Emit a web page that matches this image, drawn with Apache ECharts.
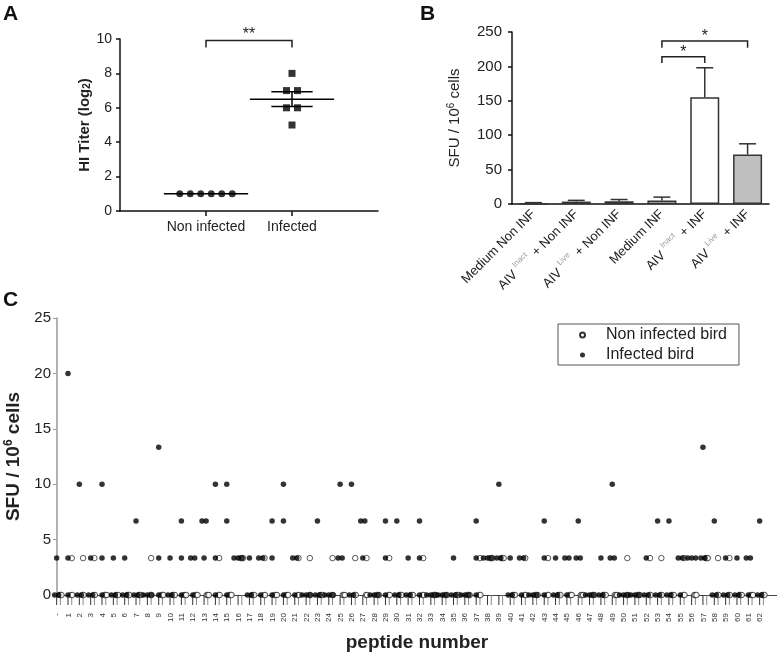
<!DOCTYPE html>
<html><head><meta charset="utf-8">
<script src="https://cdn.jsdelivr.net/npm/echarts@6/dist/echarts.min.js"></script>
<style>html,body{margin:0;padding:0;background:#fff}#c{width:777px;height:655px}</style>
</head><body><div id="c"></div>
<script>
// ---------- Panel A data ----------
const hiCategories = ['Non infected', 'Infected'];
const hiNonInfected = [1, 1, 1, 1, 1, 1];
const hiInfected = [8, 7, 7, 6, 6, 5];

// ---------- Panel B data ----------
const sfuCategories = ['Medium Non INF', 'AIV Inact + Non INF', 'AIV Live + Non INF', 'Medium INF', 'AIV Inact + INF', 'AIV Live + INF'];
const sfuMean = [1, 3.5, 4, 5, 155, 72];
const sfuSem = [1, 1.8, 2.5, 5, 43, 15.5];

// ---------- Panel C data ----------
const peptideLabels = ['-','1','2','3','4','5','6','7','8','9','10','11','12','13','14','15','16','17','18','19','20',
  '21','22','23','24','25','26','27','28','29','30','31','32','33','34','35','36','37','38','39','40',
  '41','42','43','44','45','46','47','48','49','50','51','52','53','54','55','56','57','58','59','60','61','62'];
const infectedBird = [
  [3.33,0,0],[20,3.33,0],[10,0,0],[3.33,0,0],[10,3.33,0],[3.33,0,0],[3.33,0,0],[6.67,0,0],[0,0,0],[13.33,3.33,0],
  [3.33,0,0],[6.67,3.33,0],[3.33,3.33,0],[6.67,6.67,3.33],[10,3.33,0],[10,6.67,0],[3.33,3.33,3.33],[3.33,0,0],[3.33,3.33,0],[6.67,3.33,0],
  [10,6.67,0],[3.33,3.33,0],[0,0,0],[6.67,0,0],[0,0,0],[10,3.33,3.33],[10,0,0],[6.67,6.67,3.33],[0,0,0],[6.67,3.33,0],
  [6.67,0,0],[3.33,0,0],[6.67,3.33,0],[0,0,0],[0,0,0],[3.33,0,0],[0,0,0],[6.67,3.33,0],[3.33,3.33,3.33],[10,3.33,3.33],
  [3.33,0,0],[3.33,3.33,0],[0,0,0],[6.67,3.33,0],[3.33,0,0],[3.33,3.33,0],[6.67,3.33,3.33],[0,0,0],[3.33,0,0],[10,3.33,3.33],
  [0,0,0],[0,0,0],[3.33,0,0],[6.67,0,0],[6.67,0,0],[3.33,3.33,0],[3.33,3.33,3.33],[13.33,3.33,3.33],[6.67,0,0],[3.33,0,0],
  [3.33,0,0],[3.33,3.33,0],[6.67,0,0]
];
const nonInfectedBird = [
  [0,0,0],[3.33,0,0],[3.33,0,0],[3.33,0,0],[0,0,0],[0,0,0],[0,0,0],[0,0,0],[3.33,0,0],[0,0,0],
  [0,0,0],[0,0,0],[0,0,0],[0,0,0],[3.33,0,0],[0,0,0],[3.33,3.33,3.33],[0,0,0],[3.33,0,0],[0,0,0],
  [0,0,0],[3.33,0,0],[3.33,0,0],[0,0,0],[3.33,0,0],[0,0,0],[3.33,0,0],[3.33,0,0],[0,0,0],[3.33,0,0],
  [0,0,0],[0,0,0],[3.33,0,0],[0,0,0],[0,0,0],[0,0,0],[0,0,0],[3.33,0,0],[3.33,3.33,3.33],[3.33,3.33,3.33],
  [0,0,0],[3.33,0,0],[0,0,0],[3.33,0,0],[0,0,0],[0,0,0],[0,0,0],[0,0,0],[0,0,0],[0,0,0],
  [3.33,0,0],[0,0,0],[3.33,0,0],[3.33,0,0],[0,0,0],[3.33,0,0],[0,0,0],[3.33,3.33,3.33],[3.33,0,0],[3.33,0,0],
  [0,0,0],[0,0,0],[0,0,0]
];

// ---------- helpers ----------
const FONT = '"Liberation Sans", Arial, Helvetica, sans-serif';
function spreadOffsets(values, center, spacing) {
  const counts = {}, seen = {};
  values.forEach(v => { counts[v] = (counts[v] || 0) + 1; });
  return values.map(v => {
    seen[v] = seen[v] === undefined ? 0 : seen[v] + 1;
    return center + (seen[v] - (counts[v] - 1) / 2) * spacing;
  });
}
function meanSem(arr) {
  const n = arr.length, m = arr.reduce((a, b) => a + b, 0) / n;
  const sd = Math.sqrt(arr.reduce((a, b) => a + (b - m) * (b - m), 0) / (n - 1));
  return [m, sd / Math.sqrt(n)];
}

// Panel A points
const hiNIPoints = spreadOffsets(hiNonInfected, 0, 0.122).map((o, k) => [1 + o, hiNonInfected[k]]);
const hiINPoints = spreadOffsets(hiInfected, 0, 0.128).map((o, k) => [2 + o, hiInfected[k]]);
const hiStats = [hiNonInfected, hiInfected].map((arr, i) => [i + 1].concat(meanSem(arr)));

// Panel C points
const INF_CENTER = -0.03, NI_CENTER = 0.3;
const cInf = [], cNI = [];
infectedBird.forEach((vals, i) => spreadOffsets(vals, INF_CENTER, 0.36).forEach((o, k) => cInf.push([i + o, vals[k]])));
nonInfectedBird.forEach((vals, i) => spreadOffsets(vals, NI_CENTER, 0.1).forEach((o, k) => cNI.push([i + o, vals[k]])));

function bracketSeries(xi, yi, from, to, top, leg, label, lift) {
  return {
    type: 'custom', xAxisIndex: xi, yAxisIndex: yi, silent: true, clip: false, z: 5,
    data: [[from, to, top, leg]],
    renderItem: function (params, api) {
      const a = api.coord([api.value(0), api.value(3)]);
      const b = api.coord([api.value(0), api.value(2)]);
      const c = api.coord([api.value(1), api.value(2)]);
      const d = api.coord([api.value(1), api.value(3)]);
      return { type: 'group', children: [
        { type: 'polyline', shape: { points: [a, b, c, d] }, style: { stroke: '#222', lineWidth: 1.5, fill: null } },
        { type: 'text', style: { text: label, x: (b[0] + c[0]) / 2, y: b[1] - lift, align: 'center', verticalAlign: 'middle', fontSize: 16, fontFamily: FONT, fill: '#222' } }
      ]};
    }
  };
}

const chart = echarts.init(document.getElementById('c'));
const option = {
  animation: false,
  textStyle: { fontFamily: FONT },
  grid: [
    { left: 120, top: 39, width: 258, height: 172, outerBoundsMode: 'none', containLabel: false },
    { left: 512, top: 32, width: 257, height: 172, outerBoundsMode: 'none', containLabel: false },
    { left: 57, top: 318, width: 720, height: 277, outerBoundsMode: 'none', containLabel: false }
  ],
  xAxis: [
    { gridIndex: 0, type: 'value', min: 0, max: 3, interval: 1,
      axisLine: { lineStyle: { color: '#111', width: 1.5 } },
      axisTick: { customValues: [1, 2], length: 5, lineStyle: { color: '#111', width: 1.5 } },
      axisLabel: { customValues: [1, 2], formatter: v => hiCategories[v - 1] || '', fontSize: 14, color: '#222', margin: 9 },
      splitLine: { show: false } },
    { gridIndex: 1, type: 'category', data: sfuCategories,
      axisLine: { lineStyle: { color: '#111', width: 1.5 } },
      axisTick: { alignWithLabel: true, length: 4, lineStyle: { color: '#111', width: 1.5 } },
      axisLabel: { interval: 0, rotate: 45, margin: 8, fontSize: 13, color: '#222',
        formatter: v => v.replace(/^AIV (Inact|Live) (.*)$/, '{a|AIV }{s|$1}{a| $2}'),
        rich: { a: { fontSize: 13, color: '#222', lineHeight: 20, verticalAlign: 'middle' },
                s: { fontSize: 8, color: '#9a9a9a', lineHeight: 10, verticalAlign: 'top', padding: [0, 2, 0, 0] } } } },
    { gridIndex: 2, type: 'value', min: 0, max: 63.5, interval: 1,
      axisLine: { lineStyle: { color: '#444', width: 1 } },
      axisTick: { show: false },
      axisLabel: { rotate: 90, fontSize: 8, color: '#333', margin: 18,
        formatter: v => (Number.isInteger(v) && v >= 0 && v < peptideLabels.length) ? peptideLabels[v] : '' },
      splitLine: { show: false },
      name: 'peptide number', nameLocation: 'middle', nameGap: 38,
      nameTextStyle: { fontSize: 19, fontWeight: 'bold', color: '#222' } }
  ],
  yAxis: [
    { gridIndex: 0, type: 'value', min: 0, max: 10, interval: 2,
      axisLine: { show: true, lineStyle: { color: '#111', width: 1.5 } },
      axisTick: { show: true, length: 4, lineStyle: { color: '#111', width: 1.5 } },
      axisLabel: { fontSize: 14, color: '#222', margin: 8 },
      splitLine: { show: false },
      name: '{a|HI Titer (log}{s|2}{a|)}', nameLocation: 'middle', nameGap: 26,
      nameTextStyle: { rich: { a: { fontSize: 15, fontWeight: 'bold', color: '#222' }, s: { fontSize: 10, fontWeight: 'bold', color: '#222', verticalAlign: 'bottom', padding: [6, 0, 0, 0] } } } },
    { gridIndex: 1, type: 'value', min: 0, max: 250, interval: 50,
      axisLine: { show: true, lineStyle: { color: '#111', width: 1.5 } },
      axisTick: { show: true, length: 4, lineStyle: { color: '#111', width: 1.5 } },
      axisLabel: { fontSize: 15, color: '#222', margin: 10 },
      splitLine: { show: false },
      name: '{a|SFU / 10}{s|6}{a| cells}', nameLocation: 'middle', nameGap: 48,
      nameTextStyle: { rich: { a: { fontSize: 15, color: '#222' }, s: { fontSize: 10, color: '#222', verticalAlign: 'top', padding: [0, 0, 8, 0] } } } },
    { gridIndex: 2, type: 'value', min: 0, max: 25, interval: 5,
      axisLine: { show: true, lineStyle: { color: '#999', width: 1.5 } },
      axisTick: { show: true, length: 4, lineStyle: { color: '#999', width: 1 } },
      axisLabel: { fontSize: 15, color: '#222', margin: 6 },
      splitLine: { show: false },
      name: '{a|SFU / 10}{s|6}{a| cells}', nameLocation: 'middle', nameGap: 27,
      nameTextStyle: { rich: { a: { fontSize: 19, fontWeight: 'bold', color: '#222' }, s: { fontSize: 12, fontWeight: 'bold', color: '#222', verticalAlign: 'top', padding: [0, 0, 10, 0] } } } }
  ],
  legend: {
    data: ['Non infected bird', 'Infected bird'], orient: 'vertical', left: 558, top: 324,
    borderColor: '#555', borderWidth: 1, padding: [3, 12, 2, 21], itemWidth: 5, itemHeight: 5, itemGap: 4,
    textStyle: { fontSize: 16, color: '#222', padding: [0, 0, 0, 16] }
  },
  graphic: [
    { type: 'text', left: 3, top: 4, style: { text: 'A', fontSize: 21, fontWeight: 'bold', fill: '#111', fontFamily: FONT } },
    { type: 'text', left: 420, top: 4, style: { text: 'B', fontSize: 21, fontWeight: 'bold', fill: '#111', fontFamily: FONT } },
    { type: 'text', left: 3, top: 290, style: { text: 'C', fontSize: 21, fontWeight: 'bold', fill: '#111', fontFamily: FONT } }
  ],
  series: [
    // Panel A
    { type: 'scatter', xAxisIndex: 0, yAxisIndex: 0, data: hiNIPoints, symbol: 'circle', symbolSize: 7, itemStyle: { color: '#000' }, clip: false },
    { type: 'scatter', xAxisIndex: 0, yAxisIndex: 0, data: hiINPoints, symbol: 'rect', symbolSize: 7, itemStyle: { color: '#000' }, clip: false },
    { type: 'custom', xAxisIndex: 0, yAxisIndex: 0, data: hiStats, silent: true, z: 3,
      renderItem: function (params, api) {
        const x = api.value(0), m = api.value(1), s = api.value(2);
        const st = { stroke: '#000', lineWidth: 1.5 };
        const L = (p, q) => ({ type: 'line', shape: { x1: p[0], y1: p[1], x2: q[0], y2: q[1] }, style: st });
        const ch = [L(api.coord([x - 0.49, m]), api.coord([x + 0.49, m]))];
        if (s > 0) {
          ch.push(L(api.coord([x - 0.24, m + s]), api.coord([x + 0.24, m + s])));
          ch.push(L(api.coord([x - 0.24, m - s]), api.coord([x + 0.24, m - s])));
          ch.push(L(api.coord([x, m - s]), api.coord([x, m + s])));
        }
        return { type: 'group', children: ch };
      } },
    bracketSeries(0, 0, 1, 2, 9.92, 9.5, '**', 6),
    // Panel B
    { type: 'bar', xAxisIndex: 1, yAxisIndex: 1, barWidth: 29,
      data: sfuMean.map((v, i) => ({ value: v, itemStyle: { color: [1, 5].includes(i) ? '#c0c0c0' : '#ffffff' } })),
      itemStyle: { borderColor: '#333', borderWidth: 1.5 } },
    { type: 'custom', xAxisIndex: 1, yAxisIndex: 1, silent: true, z: 4,
      data: sfuMean.map((m, i) => [i, m, sfuSem[i]]),
      renderItem: function (params, api) {
        const p0 = api.coord([api.value(0), api.value(1)]);
        const p1 = api.coord([api.value(0), api.value(1) + api.value(2)]);
        const st = { stroke: '#333', lineWidth: 1.5 };
        return { type: 'group', children: [
          { type: 'line', shape: { x1: p0[0], y1: p0[1], x2: p1[0], y2: p1[1] }, style: st },
          { type: 'line', shape: { x1: p1[0] - 8.5, y1: p1[1], x2: p1[0] + 8.5, y2: p1[1] }, style: st }
        ]};
      } },
    bracketSeries(1, 1, 3, 4, 214, 205, '*', 4),
    bracketSeries(1, 1, 3, 5, 237, 227, '*', 4),
    // Panel C
    { type: 'custom', xAxisIndex: 2, yAxisIndex: 2, silent: true, clip: false, z: 1,
      data: peptideLabels.map((_, i) => [i]),
      renderItem: function (params, api) {
        const i = api.value(0);
        const a = api.coord([i + INF_CENTER, 0]), b = api.coord([i + NI_CENTER, 0]);
        return { type: 'group', children: [
          { type: 'line', shape: { x1: a[0], y1: a[1], x2: a[0], y2: a[1] + 10 }, style: { stroke: '#333', lineWidth: 1 } },
          { type: 'line', shape: { x1: b[0], y1: b[1], x2: b[0], y2: b[1] + 10 }, style: { stroke: '#888', lineWidth: 1 } }
        ]};
      } },
    { name: 'Non infected bird', type: 'scatter', xAxisIndex: 2, yAxisIndex: 2, data: cNI, symbol: 'circle', symbolSize: 5.5,
      itemStyle: { color: '#fff', borderColor: '#000', borderWidth: 0.8 }, clip: false, z: 2 },
    { name: 'Infected bird', type: 'scatter', xAxisIndex: 2, yAxisIndex: 2, data: cInf, symbol: 'circle', symbolSize: 5.5,
      itemStyle: { color: '#000' }, clip: false, z: 3 }
  ]
};
chart.setOption(option);
</script></body></html>
